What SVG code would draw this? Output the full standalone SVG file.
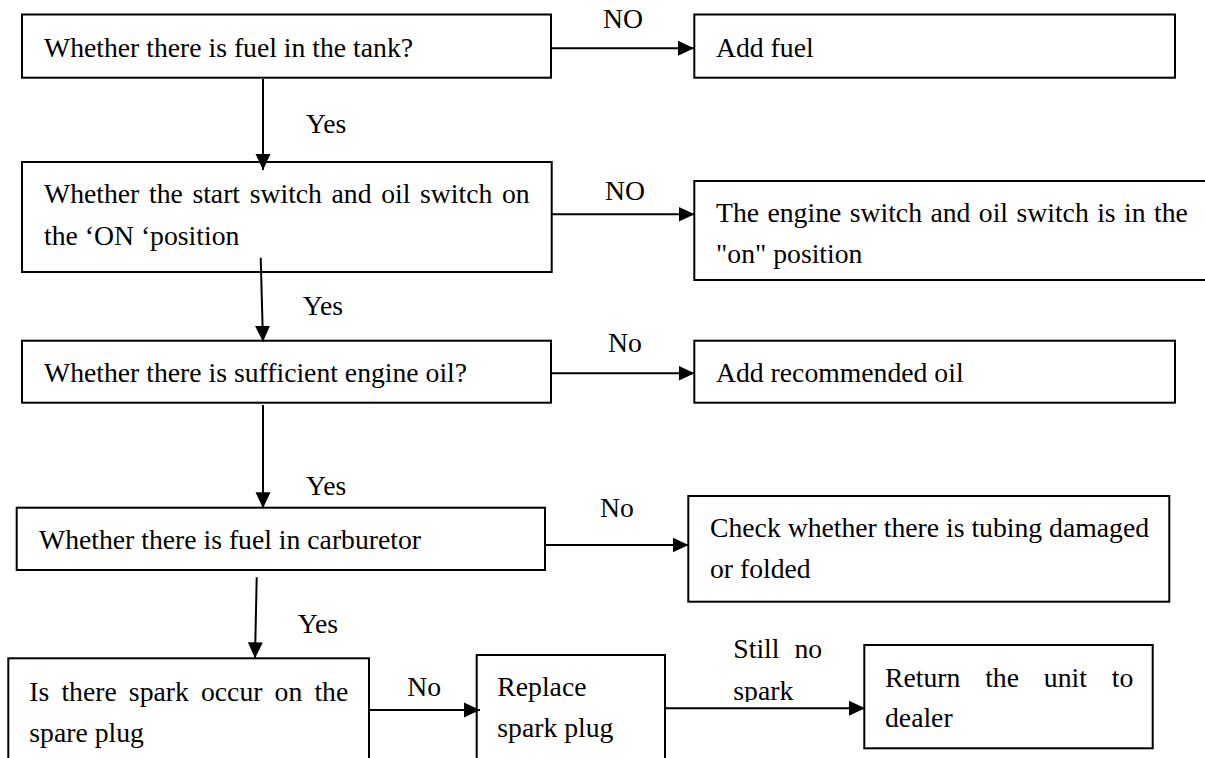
<svg xmlns="http://www.w3.org/2000/svg" width="1205" height="758" viewBox="0 0 1205 758">
<style>
.box{fill:#fff;stroke:#000;stroke-width:2}
.t{font-family:"Liberation Serif","Times New Roman",serif;font-size:27.7px;fill:#000}
.c{fill:none;stroke:#000;stroke-width:2}
</style>
<defs>
<marker id="ah" markerUnits="userSpaceOnUse" markerWidth="17" markerHeight="16" refX="16" refY="8" orient="auto">
<path d="M0,0.5 L16,8 L0,15.5 z" fill="#000"/>
</marker>
<clipPath id="clipSpark"><rect x="700" y="640" width="160" height="62"/></clipPath>
</defs>
<rect width="1205" height="758" fill="#fff"/>
<g id="n1">
<rect class="box" x="22" y="14.5" width="529" height="63.2"/>
<text class="t" x="44" y="57.3">Whether there is fuel in the tank?</text>
</g>
<g id="n1no">
<rect class="box" x="694.3" y="14.5" width="480.7" height="63.2"/>
<text class="t" x="716" y="57.3">Add fuel</text>
</g>
<g id="n2">
<rect class="box" x="22" y="162" width="529.7" height="110"/>
<text class="t" x="44" y="203.3" word-spacing="2.7">Whether the start switch and oil switch on</text>
<text class="t" x="44" y="244.5">the ‘ON ‘position</text>
</g>
<g id="n2no">
<rect class="box" x="694.3" y="181" width="530" height="99"/>
<text class="t" x="716" y="221.7" word-spacing="1.5">The engine switch and oil switch is in the</text>
<text class="t" x="716" y="263.3">"on" position</text>
</g>
<g id="n3">
<rect class="box" x="22" y="340.7" width="529" height="62"/>
<text class="t" x="44" y="381.7">Whether there is sufficient engine oil?</text>
</g>
<g id="n3no">
<rect class="box" x="694.3" y="340.7" width="480.7" height="62"/>
<text class="t" x="716" y="381.7">Add recommended oil</text>
</g>
<g id="n4">
<rect class="box" x="16.7" y="507.7" width="528.3" height="62.3"/>
<text class="t" x="39" y="549.3">Whether there is fuel in carburetor</text>
</g>
<g id="n4no">
<rect class="box" x="688.3" y="496" width="481" height="105.7"/>
<text class="t" x="710" y="536.7">Check whether there is tubing damaged</text>
<text class="t" x="710" y="578.3">or folded</text>
</g>
<g id="n5">
<rect class="box" x="8.3" y="658.3" width="360.7" height="120"/>
<text class="t" x="29.3" y="700.7" word-spacing="5.2">Is there spark occur on the</text>
<text class="t" x="29.3" y="741.7">spare plug</text>
</g>
<g id="n6">
<rect class="box" x="476.7" y="655" width="188.3" height="120"/>
<text class="t" x="497.3" y="696">Replace</text>
<text class="t" x="497.3" y="737.3">spark plug</text>
</g>
<g id="n7">
<rect class="box" x="864.3" y="645" width="288.4" height="103.3"/>
<text class="t" x="885" y="686.7" word-spacing="17.9">Return the unit to</text>
<text class="t" x="885" y="727.3">dealer</text>
</g>
<g id="connectors">
<line class="c" x1="551" y1="48.3" x2="694" y2="48.3" marker-end="url(#ah)"/>
<line class="c" x1="263" y1="79" x2="263" y2="170" marker-end="url(#ah)"/>
<line class="c" x1="551.7" y1="214.3" x2="694.5" y2="214.3" marker-end="url(#ah)"/>
<line class="c" x1="260.7" y1="257.7" x2="263" y2="341.7" marker-end="url(#ah)"/>
<line class="c" x1="551" y1="373.3" x2="694.5" y2="373.3" marker-end="url(#ah)"/>
<line class="c" x1="263" y1="405" x2="263" y2="508.3" marker-end="url(#ah)"/>
<line class="c" x1="545" y1="545" x2="688.5" y2="545" marker-end="url(#ah)"/>
<line class="c" x1="256.7" y1="577.3" x2="255" y2="658.3" marker-end="url(#ah)"/>
<line class="c" x1="369" y1="710" x2="480" y2="710" marker-end="url(#ah)"/>
<line class="c" x1="665" y1="708.3" x2="865" y2="708.3" marker-end="url(#ah)"/>
<text class="t" x="603" y="28.3">NO</text>
<text class="t" x="306" y="133.3">Yes</text>
<text class="t" x="605" y="200">NO</text>
<text class="t" x="302.7" y="315">Yes</text>
<text class="t" x="608" y="351.7">No</text>
<text class="t" x="306" y="495">Yes</text>
<text class="t" x="600" y="516.7">No</text>
<text class="t" x="297.7" y="633.3">Yes</text>
<text class="t" x="407.3" y="696">No</text>
<text class="t" x="733.3" y="658.3" word-spacing="8">Still no</text>
<text class="t" x="733.3" y="699.5" clip-path="url(#clipSpark)">spark</text>
</g>
</svg>
